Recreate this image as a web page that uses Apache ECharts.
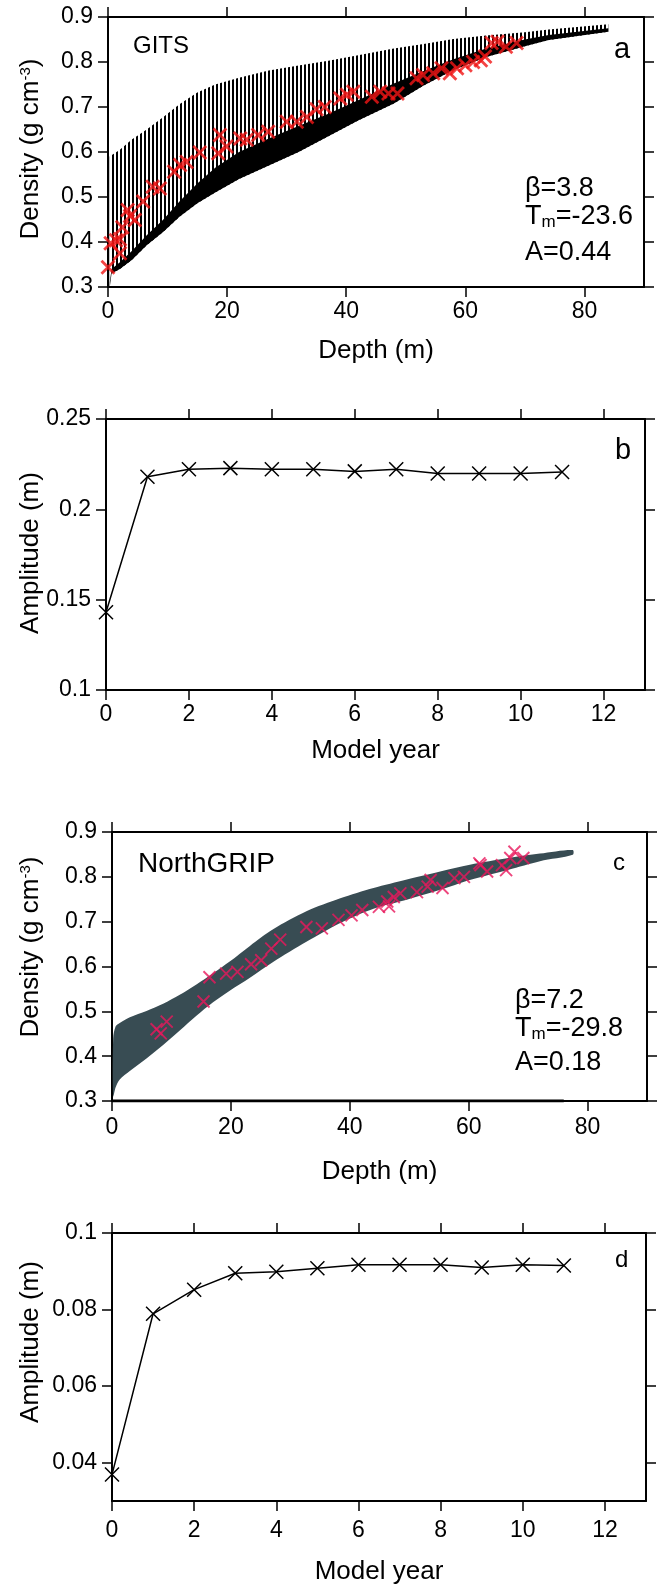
<!DOCTYPE html>
<html>
<head>
<meta charset="utf-8">
<script src="https://cdn.jsdelivr.net/npm/echarts@6/dist/echarts.min.js"></script>
<style>
html,body{margin:0;padding:0;background:#fff;}
#chart{width:661px;height:1587px;}
</style>
</head>
<body>
<div id="chart"></div>
<script>
// ---------- Panel a (GITS) ----------
const aDepthGrid = [0.3, 0.6, 2, 4, 6.5, 9.3, 12, 15, 18, 22, 27, 32, 37, 42, 48, 53, 58, 63.5, 70, 74, 84];
const aUpper     = [0.59, 0.593, 0.605, 0.628, 0.65, 0.678, 0.706, 0.732, 0.75, 0.765, 0.781, 0.792, 0.803, 0.815, 0.83, 0.84, 0.851, 0.859, 0.866, 0.872, 0.884];
const aDense     = [0.31, 0.34, 0.355, 0.38, 0.415, 0.45, 0.49, 0.53, 0.565, 0.6, 0.63, 0.658, 0.685, 0.715, 0.752, 0.78, 0.806, 0.83, 0.85, 0.86, 0.875];
const aLower     = [0.30, 0.33, 0.34, 0.36, 0.393, 0.423, 0.456, 0.486, 0.51, 0.54, 0.57, 0.60, 0.635, 0.67, 0.708, 0.748, 0.782, 0.811, 0.835, 0.849, 0.867];
const aCrosses = [[0,0.344],[0.45,0.397],[1.35,0.404],[2.0,0.406],[2.0,0.375],[2.4,0.433],[3.3,0.471],[3.7,0.458],[4.5,0.449],[5.9,0.49],[7.5,0.523],[8.7,0.519],[11.1,0.556],[12.1,0.571],[13.2,0.578],[15.4,0.599],[18.5,0.597],[18.8,0.638],[19.9,0.612],[22.2,0.63],[23.3,0.627],[25.2,0.638],[26.9,0.645],[30.0,0.667],[31.7,0.667],[33.4,0.678],[35.0,0.695],[36.4,0.70],[39.0,0.719],[40.1,0.727],[41.2,0.734],[44.3,0.723],[45.7,0.734],[47.1,0.73],[48.6,0.73],[51.8,0.764],[52.9,0.771],[54.6,0.775],[56.0,0.786],[57.4,0.775],[58.6,0.786],[60.0,0.793],[61.3,0.80],[62.6,0.804],[63.3,0.812],[64.4,0.842],[65.4,0.845],[66.8,0.834],[68.6,0.842]];
const aXTicks = [0, 20, 40, 60, 80];
const aYTicks = [0.3, 0.4, 0.5, 0.6, 0.7, 0.8, 0.9];

// ---------- Panel b ----------
const bYears = [0, 1, 2, 3, 4, 5, 6, 7, 8, 9, 10, 11];
const bAmp   = [0.143, 0.218, 0.2222, 0.2228, 0.2222, 0.2222, 0.221, 0.2222, 0.2198, 0.2198, 0.2198, 0.2207];
const bXTicks = [0, 2, 4, 6, 8, 10, 12];
const bYTicks = [0.1, 0.15, 0.2, 0.25];

// ---------- Panel c (NorthGRIP) ----------
const cDepthGrid = [0.2, 0.6, 1.3, 3.0, 5.8, 8.6, 11.4, 14.2, 17.0, 19.8, 23.2, 27.1, 32.7, 38.4, 44.0, 49.6, 55.2, 60.2, 66.7, 72.0, 77.5];
const cUpper = [0.44, 0.466, 0.474, 0.487, 0.501, 0.517, 0.537, 0.56, 0.585, 0.611, 0.646, 0.683, 0.723, 0.752, 0.775, 0.794, 0.812, 0.827, 0.842, 0.852, 0.86];
const cLower = [0.31, 0.33, 0.348, 0.367, 0.395, 0.425, 0.457, 0.49, 0.52, 0.546, 0.575, 0.61, 0.655, 0.697, 0.729, 0.749, 0.771, 0.793, 0.816, 0.835, 0.849];
const cCrosses = [[7.5,0.46],[8.2,0.451],[9.2,0.477],[15.4,0.522],[16.4,0.576],[19.2,0.584],[21.1,0.588],[23.4,0.605],[25.1,0.614],[26.8,0.64],[28.3,0.66],[32.7,0.688],[35.3,0.685],[38.1,0.704],[40.3,0.714],[42.1,0.726],[44.9,0.733],[46.3,0.745],[46.6,0.734],[47.4,0.755],[48.5,0.763],[51.3,0.766],[53.1,0.778],[53.6,0.793],[55.6,0.775],[57.6,0.797],[59.2,0.80],[61.8,0.83],[62.0,0.826],[63.1,0.812],[65.6,0.826],[66.3,0.815],[67.0,0.842],[67.7,0.856],[69.2,0.842]];
const cBaseline = [[0, 0.3], [76, 0.3]];
const cXTicks = [0, 20, 40, 60, 80];
const cYTicks = [0.3, 0.4, 0.5, 0.6, 0.7, 0.8, 0.9];

// ---------- Panel d ----------
const dYears = [0, 1, 2, 3, 4, 5, 6, 7, 8, 9, 10, 11];
const dAmp   = [0.0369, 0.0789, 0.0852, 0.0895, 0.0899, 0.0908, 0.0917, 0.0917, 0.0917, 0.0910, 0.0917, 0.0915];
const dXTicks = [0, 2, 4, 6, 8, 10, 12];
const dYTicks = [0.04, 0.06, 0.08, 0.1];

const FONT = '"Liberation Sans", Arial, Helvetica, sans-serif';
const TICKFS = 23;

const grids = [
  {left: 108, top: 17, width: 536, height: 270},
  {left: 106, top: 419, width: 539, height: 271},
  {left: 112, top: 832, width: 535, height: 269},
  {left: 112, top: 1233, width: 534, height: 268}
];

const xAxes = [], yAxes = [];
function addAxes(g, xr, yr, xt, yt, xMargin, xName, xGap) {
  const line = {show: true, onZero: false, lineStyle: {color: '#000', width: 2}};
  const tick = (vals) => ({show: true, inside: false, length: 10, customValues: vals, lineStyle: {color: '#000', width: 1.5}});
  xAxes.push({gridIndex: g, type: 'value', position: 'bottom', min: xr[0], max: xr[1],
    axisLine: line, axisTick: tick(xt), splitLine: {show: false},
    axisLabel: {show: true, customValues: xt, color: '#000', fontSize: TICKFS, fontFamily: FONT, margin: xMargin},
    name: xName, nameLocation: 'middle', nameGap: xGap,
    nameTextStyle: {color: '#000', fontSize: 26, fontFamily: FONT}});
  xAxes.push({gridIndex: g, type: 'value', position: 'top', min: xr[0], max: xr[1],
    axisLine: line, axisTick: tick(xt), splitLine: {show: false}, axisLabel: {show: false}});
  yAxes.push({gridIndex: g, type: 'value', position: 'left', min: yr[0], max: yr[1],
    axisLine: line, axisTick: tick(yt), splitLine: {show: false},
    axisLabel: {show: true, customValues: yt, color: '#000', fontSize: TICKFS, fontFamily: FONT, margin: 15}});
  yAxes.push({gridIndex: g, type: 'value', position: 'right', min: yr[0], max: yr[1],
    axisLine: line, axisTick: tick(yt), splitLine: {show: false}, axisLabel: {show: false}});
}
addAxes(0, [0, 90], [0.3, 0.9], aXTicks, aYTicks, 13, 'Depth (m)', 51);
addAxes(1, [0, 13], [0.1, 0.25], bXTicks, bYTicks, 13, 'Model year', 48);
addAxes(2, [0, 90], [0.3, 0.9], cXTicks, cYTicks, 15, 'Depth (m)', 58);
addAxes(3, [0, 13], [0.03, 0.1], dXTicks, dYTicks, 18, 'Model year', 58);

// vertical line pattern for the GITS layered profile
const pat = document.createElement('canvas');
pat.width = 4; pat.height = 4;
const pctx = pat.getContext('2d');
pctx.fillStyle = '#000';
pctx.fillRect(0, 0, 2, 4);

function bandRender(grid, upper, lower, dense, fillStyle, smooth) {
  return function (params, api) {
    const up = grid.map((d, i) => api.coord([d, upper[i]]));
    const lo = grid.map((d, i) => api.coord([d, lower[i]])).reverse();
    const children = [{type: 'polygon', shape: {points: up.concat(lo), smooth: smooth}, style: {fill: fillStyle}}];
    if (dense) {
      const de = grid.map((d, i) => api.coord([d, dense[i]]));
      children.push({type: 'polygon', shape: {points: de.concat(lo), smooth: smooth}, style: {fill: '#000'}});
    }
    return {type: 'group', children: children};
  };
}

const crossPath = 'path://M0,0L20,20M20,0L0,20';

const series = [
  {type: 'custom', xAxisIndex: 0, yAxisIndex: 0, silent: true, data: [[aDepthGrid[0], aLower[0]]],
   renderItem: bandRender(aDepthGrid, aUpper, aLower, aDense, {image: pat, repeat: 'repeat'}, 0), z: 1},
  {type: 'scatter', xAxisIndex: 0, yAxisIndex: 0, data: aCrosses, symbol: crossPath, symbolSize: 13,
   itemStyle: {color: 'rgba(0,0,0,0)', borderColor: '#f01515', borderWidth: 2.8}, z: 3},
  {type: 'line', xAxisIndex: 2, yAxisIndex: 2, data: bYears.map((y, i) => [y, bAmp[i]]),
   symbol: crossPath, symbolSize: 14, lineStyle: {color: '#000', width: 1.5},
   itemStyle: {color: '#000', borderColor: '#000', borderWidth: 1.5}},
  {type: 'custom', xAxisIndex: 4, yAxisIndex: 4, silent: true, data: [[cDepthGrid[0], cLower[0]]],
   renderItem: bandRender(cDepthGrid, cUpper, cLower, null, '#384c53', 0.3), z: 1},
  {type: 'line', xAxisIndex: 4, yAxisIndex: 4, data: cBaseline, symbol: 'none',
   lineStyle: {color: '#000', width: 3}, z: 2},
  {type: 'scatter', xAxisIndex: 4, yAxisIndex: 4, data: cCrosses, symbol: crossPath, symbolSize: 12,
   itemStyle: {color: 'rgba(0,0,0,0)', borderColor: '#e8185c', borderWidth: 1.9}, z: 3},
  {type: 'line', xAxisIndex: 6, yAxisIndex: 6, data: dYears.map((y, i) => [y, dAmp[i]]),
   symbol: crossPath, symbolSize: 14, lineStyle: {color: '#000', width: 1.5},
   itemStyle: {color: '#000', borderColor: '#000', borderWidth: 1.5}}
];

function txt(x, y, text, size, extra) {
  return Object.assign({type: 'text', x: x, y: y, silent: true,
    style: {text: text, fill: '#000', fontSize: size, fontFamily: FONT, align: 'left', verticalAlign: 'middle'}}, extra || {});
}
function tmText(x, y, val) {
  return {type: 'text', x: x, y: y, silent: true,
    style: {text: '{t|T}{s|m}{t|=' + val + '}', align: 'left', verticalAlign: 'middle',
      rich: {t: {fontSize: 27, fontFamily: FONT, fill: '#000'},
             s: {fontSize: 17, fontFamily: FONT, fill: '#000', verticalAlign: 'bottom', lineHeight: 8}}}};
}
function yName(x, y, text, rich) {
  return {type: 'text', x: x, y: y, rotation: Math.PI / 2, silent: true,
    style: {text: text, align: 'center', verticalAlign: 'middle', fill: '#000', fontSize: 26, fontFamily: FONT, rich: rich}};
}
const densRich = {n: {fontSize: 26, fontFamily: FONT, fill: '#000'},
                  p: {fontSize: 15, fontFamily: FONT, fill: '#000', verticalAlign: 'top', lineHeight: 10}};

const graphic = [
  txt(133, 46, 'GITS', 24),
  txt(614, 50, 'a', 29),
  txt(525, 189, 'β=3.8', 27),
  tmText(525, 217, '-23.6'),
  txt(525, 253, 'A=0.44', 27),
  txt(615, 451, 'b', 29),
  txt(138, 864, 'NorthGRIP', 28),
  txt(613, 863, 'c', 24),
  txt(515, 1001, 'β=7.2', 27),
  tmText(515, 1029, '-29.8'),
  txt(515, 1063, 'A=0.18', 27),
  txt(615, 1260, 'd', 24),
  yName(31, 149, '{n|Density (g cm}{p|-3}{n|)}', densRich),
  yName(31, 553, 'Amplitude (m)'),
  yName(31, 947, '{n|Density (g cm}{p|-3}{n|)}', densRich),
  yName(31, 1342, 'Amplitude (m)')
];

const chart = echarts.init(document.getElementById('chart'), null, {renderer: 'canvas'});
chart.setOption({
  animation: false,
  backgroundColor: '#fff',
  grid: grids,
  xAxis: xAxes,
  yAxis: yAxes,
  series: series,
  graphic: graphic
});
</script>
</body>
</html>
